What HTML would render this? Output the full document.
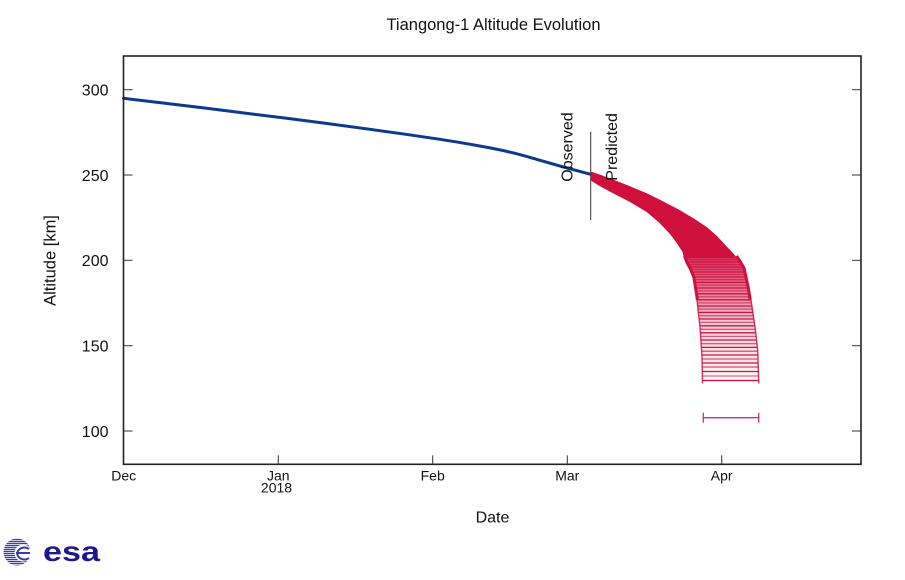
<!DOCTYPE html>
<html>
<head>
<meta charset="utf-8">
<style>
html,body{margin:0;padding:0;background:#fff;}
svg{display:block;}
text{font-family:"Liberation Sans",Arial,sans-serif;fill:#111;}
</style>
</head>
<body>
<svg width="905" height="580" viewBox="0 0 905 580" xmlns="http://www.w3.org/2000/svg">
<defs>
<linearGradient id="bg" x1="0" y1="257" x2="0" y2="383" gradientUnits="userSpaceOnUse">
<stop offset="0" stop-color="#d01040" stop-opacity="0.85"/>
<stop offset="0.3" stop-color="#d01040" stop-opacity="0.5"/>
<stop offset="0.55" stop-color="#d01040" stop-opacity="0.18"/>
<stop offset="1" stop-color="#d01040" stop-opacity="0.03"/>
</linearGradient>
<clipPath id="globe"><circle cx="17" cy="552" r="13.5"/></clipPath>
</defs>
<rect width="905" height="580" fill="#fff"/>

<!-- Title -->
<text x="493.5" y="30" font-size="16.5" text-anchor="middle">Tiangong-1 Altitude Evolution</text>

<!-- Blue observed line -->
<polyline points="123.5,98.3 165,103.2 206.7,108.3 246,113.2 286.7,118.3 328,123.6 370,129.3 405,134.2 440,139.3 458,142.2 475,145.1 490,147.9 503,150.5 516,153.6 528,156.8 540,160.3 553,164 565,167.4 578,170.9 590.7,174.3" fill="none" stroke="#0b3a8e" stroke-width="3" stroke-linejoin="round" stroke-linecap="round"/>

<!-- Separator line -->
<line x1="590.7" y1="131.7" x2="590.7" y2="220" stroke="#333" stroke-width="1"/>

<!-- Red predicted solid band -->
<path d="M590.7,171.5 L600,174.6 L613,179.5 L630,186.3 L646.7,193.3 L663,201.2 L680,210.2 L694,218.6 L706.7,227 L717,236 L726.7,246.5 L733,253 L737,258 L684,258 L682.5,252 L677,243.5 L670,234 L659,222.5 L646.7,212 L630,202 L613,193.3 L600,186.2 L590.7,180.5 Z" fill="#cf0f3c"/>

<!-- Bar region background -->
<path d="M684,257 L737,257 L745,270 L751,300 L755,327 L757.7,350 L758.8,381 L702.5,381 L702,357 L700,327 L697,300 L693,277 Z" fill="url(#bg)"/>

<!-- Bars -->
<g stroke="#d01040" stroke-width="1.3" fill="none">
<line x1="684" y1="257" x2="737" y2="257"/>
<line x1="685.1" y1="259.5" x2="738.5" y2="259.5" stroke-opacity="0.7"/>
<line x1="686.3" y1="262" x2="740" y2="262"/>
<line x1="687.4" y1="264.5" x2="741.6" y2="264.5" stroke-opacity="0.7"/>
<line x1="688.5" y1="267" x2="743.1" y2="267"/>
<line x1="689.6" y1="269.5" x2="744.7" y2="269.5" stroke-opacity="0.7"/>
<line x1="690.8" y1="272" x2="745.4" y2="272"/>
<line x1="691.9" y1="274.5" x2="745.9" y2="274.5" stroke-opacity="0.65"/>
<line x1="693" y1="277" x2="746.4" y2="277"/>
<line x1="693.5" y1="279.7" x2="746.9" y2="279.7" stroke-opacity="0.65"/>
<line x1="693.9" y1="282.4" x2="747.4" y2="282.4"/>
<line x1="694.4" y1="285.2" x2="747.9" y2="285.2" stroke-opacity="0.6"/>
<line x1="694.9" y1="288" x2="748.4" y2="288"/>
<line x1="695.4" y1="290.9" x2="748.9" y2="290.9" stroke-opacity="0.6"/>
<line x1="695.9" y1="293.8" x2="749.4" y2="293.8"/>
<line x1="696.4" y1="296.8" x2="749.9" y2="296.8" stroke-opacity="0.6"/>
<line x1="697" y1="299.8" x2="750.4" y2="299.8"/>
<line x1="697.3" y1="302.9" x2="751.4" y2="302.9" stroke-opacity="0.6"/>
<line x1="697.7" y1="306" x2="751.9" y2="306"/>
<line x1="698" y1="309.2" x2="752.4" y2="309.2" stroke-opacity="0.6"/>
<line x1="698.4" y1="312.4" x2="752.9" y2="312.4"/>
<line x1="698.8" y1="315.7" x2="753.4" y2="315.7" stroke-opacity="0.6"/>
<line x1="699.1" y1="319" x2="753.9" y2="319"/>
<line x1="699.5" y1="322.4" x2="754.4" y2="322.4" stroke-opacity="0.6"/>
<line x1="699.9" y1="325.8" x2="754.8" y2="325.8"/>
<line x1="700.2" y1="329.3" x2="755.2" y2="329.3" stroke-opacity="0.65"/>
<line x1="700.4" y1="332.8" x2="755.6" y2="332.8"/>
<line x1="700.6" y1="336.4" x2="756" y2="336.4" stroke-opacity="0.65"/>
<line x1="700.9" y1="340" x2="756.3" y2="340"/>
<line x1="701.1" y1="343.7" x2="756.7" y2="343.7" stroke-opacity="0.65"/>
<line x1="701.4" y1="347.4" x2="757.2" y2="347.4"/>
<line x1="701.6" y1="351.2" x2="757.6" y2="351.2" stroke-opacity="0.7"/>
<line x1="701.9" y1="355" x2="757.8" y2="355"/>
<line x1="702" y1="359" x2="758" y2="359" stroke-opacity="0.7"/>
<line x1="702.1" y1="363" x2="758.1" y2="363"/>
<line x1="702.2" y1="367" x2="758.3" y2="367" stroke-opacity="0.75"/>
<line x1="702.3" y1="371.5" x2="758.5" y2="371.5"/>
<line x1="702.4" y1="376" x2="758.6" y2="376" stroke-opacity="0.6"/>
<line x1="702.5" y1="380.5" x2="758.8" y2="380.5"/>
</g>

<!-- Edges of bar region -->
<polyline points="684.5,256 687,262.5 690.5,269 693.8,277 695.6,288 697.4,300" fill="none" stroke="#cf0f3c" stroke-width="3"/>
<polyline points="736.5,256 740.5,262 744,268 746,277 748.3,288 750.3,300" fill="none" stroke="#cf0f3c" stroke-width="3"/>
<polyline points="697,300 700,327 702,357 702.5,383.5" fill="none" stroke="#d01040" stroke-width="1.4" stroke-opacity="0.85"/>
<polyline points="751,300 755,327 757.7,350 758.8,383.5" fill="none" stroke="#d01040" stroke-width="1.4" stroke-opacity="0.85"/>

<!-- Isolated bar -->
<g stroke="#d01040" stroke-width="1.3" stroke-opacity="0.85">
<line x1="703.3" y1="417.7" x2="758.7" y2="417.7"/>
<line x1="703.3" y1="412.7" x2="703.3" y2="422.7"/>
<line x1="758.7" y1="412.7" x2="758.7" y2="422.7"/>
</g>

<!-- Frame -->
<rect x="123.5" y="56" width="737.5" height="408.3" fill="none" stroke="#222" stroke-width="1.6"/>

<!-- Y ticks -->
<g stroke="#333" stroke-width="1">
<line x1="123.5" y1="89.7" x2="132.5" y2="89.7"/>
<line x1="123.5" y1="175" x2="132.5" y2="175"/>
<line x1="123.5" y1="260.3" x2="132.5" y2="260.3"/>
<line x1="123.5" y1="345.7" x2="132.5" y2="345.7"/>
<line x1="123.5" y1="431" x2="132.5" y2="431"/>
<line x1="861" y1="89.7" x2="852" y2="89.7"/>
<line x1="861" y1="175" x2="852" y2="175"/>
<line x1="861" y1="260.3" x2="852" y2="260.3"/>
<line x1="861" y1="345.7" x2="852" y2="345.7"/>
<line x1="861" y1="431" x2="852" y2="431"/>
<!-- X ticks -->
<line x1="278.3" y1="464.3" x2="278.3" y2="455.3"/>
<line x1="432.7" y1="464.3" x2="432.7" y2="455.3"/>
<line x1="567.3" y1="464.3" x2="567.3" y2="455.3"/>
<line x1="721.7" y1="464.3" x2="721.7" y2="455.3"/>
</g>

<!-- Y tick labels -->
<g font-size="16" text-anchor="end">
<text x="108.5" y="95.5">300</text>
<text x="108.5" y="180.8">250</text>
<text x="108.5" y="266.1">200</text>
<text x="108.5" y="351.5">150</text>
<text x="108.5" y="436.8">100</text>
</g>

<!-- X tick labels -->
<g font-size="14" text-anchor="middle">
<text x="123.7" y="480.7">Dec</text>
<text x="278.3" y="480.7">Jan</text>
<text x="276.5" y="492.5">2018</text>
<text x="432.7" y="480.7">Feb</text>
<text x="567.3" y="480.7">Mar</text>
<text x="721.7" y="480.7">Apr</text>
</g>

<!-- Axis labels -->
<text x="492.5" y="522.5" font-size="16" text-anchor="middle">Date</text>
<text transform="translate(55.5,260.5) rotate(-90)" font-size="16.5" text-anchor="middle">Altitude [km]</text>

<!-- Annotations -->
<text transform="translate(572.5,181.7) rotate(-90)" font-size="16">Observed</text>
<text transform="translate(617,180.7) rotate(-90)" font-size="16">Predicted</text>

<!-- ESA logo -->
<g clip-path="url(#globe)" stroke="#3a3aa8" stroke-width="1.2">
<line x1="0" y1="539.5" x2="40" y2="539.5"/>
<line x1="0" y1="541.5" x2="40" y2="541.5"/>
<line x1="0" y1="543.5" x2="40" y2="543.5"/>
<line x1="0" y1="545.5" x2="40" y2="545.5"/>
<line x1="0" y1="547.5" x2="40" y2="547.5"/>
<line x1="0" y1="549.5" x2="40" y2="549.5"/>
<line x1="0" y1="551.5" x2="40" y2="551.5"/>
<line x1="0" y1="553.5" x2="40" y2="553.5"/>
<line x1="0" y1="555.5" x2="40" y2="555.5"/>
<line x1="0" y1="557.5" x2="40" y2="557.5"/>
<line x1="0" y1="559.5" x2="40" y2="559.5"/>
<line x1="0" y1="561.5" x2="40" y2="561.5"/>
<line x1="0" y1="563.5" x2="40" y2="563.5"/>
<line x1="0" y1="565.5" x2="40" y2="565.5"/>
</g>
<circle cx="23" cy="553" r="8.5" fill="#fff"/>
<path d="M16,553 L30,553 M29,549 A7,6 0 1 0 29,558" fill="none" stroke="#3a3aa8" stroke-width="2"/>
<text transform="translate(43,561) scale(1.22,1)" font-size="28" font-weight="bold" style="fill:#1c1a8a">esa</text>
</svg>
</body>
</html>
